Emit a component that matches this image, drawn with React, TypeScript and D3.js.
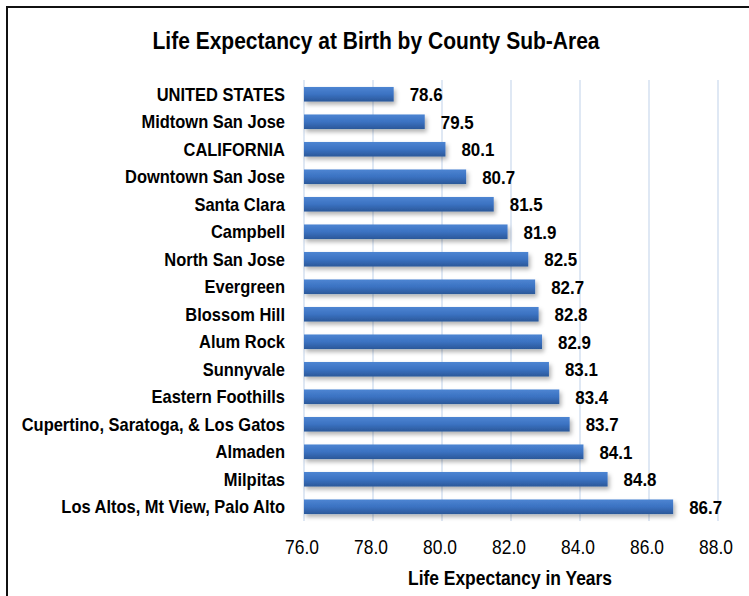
import React from "react";
import * as d3 from "d3";

const categories = [
  "UNITED STATES",
  "Midtown San Jose",
  "CALIFORNIA",
  "Downtown San Jose",
  "Santa Clara",
  "Campbell",
  "North San Jose",
  "Evergreen",
  "Blossom Hill",
  "Alum Rock",
  "Sunnyvale",
  "Eastern Foothills",
  "Cupertino, Saratoga, & Los Gatos",
  "Almaden",
  "Milpitas",
  "Los Altos, Mt View, Palo Alto",
];
const values = [78.6, 79.5, 80.1, 80.7, 81.5, 81.9, 82.5, 82.7, 82.8, 82.9, 83.1, 83.4, 83.7, 84.1, 84.8, 86.7];
const xTicks = [76, 78, 80, 82, 84, 86, 88];

const W = 749;
const H = 596;
const FONT = "'Liberation Sans', Arial, sans-serif";

type TProps = {
  x: number;
  y: number;
  sx: number;
  size: number;
  bold?: boolean;
  anchor?: "start" | "middle" | "end";
  children: React.ReactNode;
};

function T({ x, y, sx, size, bold, anchor = "start", children }: TProps) {
  return (
    <g transform={`translate(${x},${y}) scale(${sx},1)`}>
      <text
        x={0}
        y={0}
        textAnchor={anchor}
        fontFamily={FONT}
        fontWeight={bold ? "bold" : "normal"}
        fontSize={size}
        fill="#000"
      >
        {children}
      </text>
    </g>
  );
}

export default function App() {
  const x = d3.scaleLinear().domain([76, 88]).range([304, 718]);
  const y = d3
    .scaleBand<string>()
    .domain(categories)
    .range([80, 521])
    .paddingInner(0.47)
    .paddingOuter(0.253);
  const bh = y.bandwidth();
  return (
    <svg width={W} height={H} style={{ position: "absolute", left: 0, top: 0 }}>
      <defs>
        <linearGradient id="barGrad" x1="0" y1="0" x2="0" y2="1">
          <stop offset="0%" stopColor="#4d85d2" />
          <stop offset="50%" stopColor="#3b72c2" />
          <stop offset="100%" stopColor="#2b5899" />
        </linearGradient>
        <filter id="shadow" x="-5%" y="-30%" width="115%" height="200%">
          <feDropShadow dx="2" dy="3" stdDeviation="2" floodColor="#000" floodOpacity="0.3" />
        </filter>
      </defs>
      <rect x={0} y={0} width={W} height={H} fill="#fff" />
      <path d={`M7,${H} L7,7 L${W},7`} fill="none" stroke="#111" strokeWidth={2} />
      <T x={376} y={49} sx={0.914} size={23} bold anchor="middle">
        Life Expectancy at Birth by County Sub-Area
      </T>
      {xTicks.map((t) => (
        <line key={t} x1={x(t)} x2={x(t)} y1={80} y2={521} stroke="#d4e1f1" strokeWidth={1.5} />
      ))}
      {categories.map((c, i) => {
        const cy = y(c)! + bh / 2;
        return (
          <g key={c}>
            <rect
              x={x(76)}
              y={y(c)!}
              width={x(values[i]) - x(76)}
              height={bh}
              fill="url(#barGrad)"
              filter="url(#shadow)"
            />
            <T x={285} y={cy + 6.7} sx={0.89} size={18.5} bold anchor="end">
              {c}
            </T>
            <T x={x(values[i]) + 16} y={cy + 7} sx={0.89} size={19} bold>
              {values[i].toFixed(1)}
            </T>
          </g>
        );
      })}
      {xTicks.map((t) => (
        <T key={"t" + t} x={x(t) - 2} y={554} sx={0.87} size={20} anchor="middle">
          {t.toFixed(1)}
        </T>
      ))}
      <T x={510} y={585} sx={0.85} size={20.5} bold anchor="middle">
        Life Expectancy in Years
      </T>
    </svg>
  );
}
